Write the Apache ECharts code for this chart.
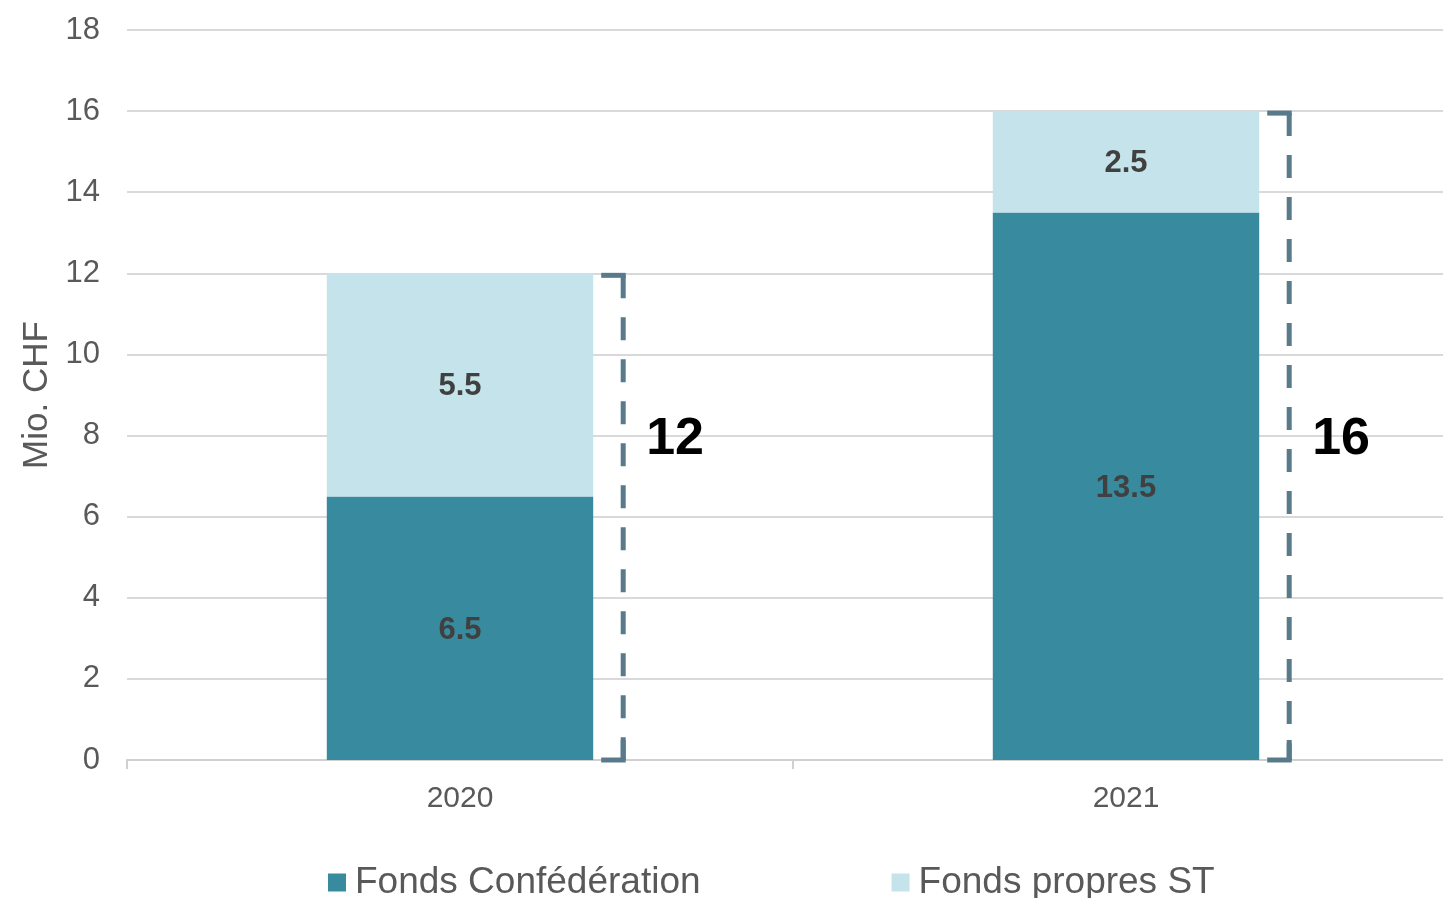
<!DOCTYPE html>
<html>
<head>
<meta charset="utf-8">
<script src="https://cdn.jsdelivr.net/npm/echarts@6/dist/echarts.min.js"></script>
<style>
html,body{margin:0;padding:0;background:#fff;}
#c{width:1443px;height:898px;}
</style>
</head>
<body>
<div id="c"></div>
<script>
const categories = ['2020', '2021'];
const fondsConfederation = [6.5, 13.5];
const fondsPropres = [5.5, 2.5];
const totals = [12, 16];
const seriesNames = ['Fonds Confédération', 'Fonds propres ST'];
const yTicks = { min: 0, max: 18, interval: 2 };

const chart = echarts.init(document.getElementById('c'));
const FONT = '"Liberation Sans", Arial, sans-serif';
const BRACKET = '#587A8B';

chart.setOption({
  animation: false,
  backgroundColor: '#ffffff',
  textStyle: { fontFamily: FONT },
  grid: { left: 127, width: 1332, top: 30, height: 730, outerBoundsMode: 'none', containLabel: false },
  legend: {
    data: seriesNames,
    left: 328, top: 864,
    padding: 0,
    itemWidth: 18, itemHeight: 18, itemGap: 191,
    icon: 'rect',
    textStyle: { fontSize: 37, color: '#595959', fontFamily: FONT, padding: [0, 0, 0, 4] }
  },
  xAxis: {
    type: 'category',
    data: categories,
    axisLine: { lineStyle: { color: '#d0d0d0', width: 2 } },
    axisTick: { show: true, length: 9, lineStyle: { color: '#d0d0d0', width: 2 } },
    axisLabel: { fontSize: 30, color: '#595959', margin: 24, fontFamily: FONT }
  },
  yAxis: {
    type: 'value',
    min: yTicks.min, max: yTicks.max, interval: yTicks.interval,
    name: 'Mio. CHF',
    nameLocation: 'middle',
    nameGap: 72,
    nameRotate: 90,
    nameTextStyle: { fontSize: 35, color: '#595959', fontFamily: FONT },
    axisLine: { show: false },
    axisTick: { show: false },
    axisLabel: { fontSize: 31, color: '#595959', margin: 27, fontFamily: FONT },
    splitLine: { lineStyle: { color: '#d9d9d9', width: 2 } }
  },
  series: [
    {
      name: seriesNames[0], type: 'bar', stack: 'total', barWidth: '40%',
      data: fondsConfederation,
      itemStyle: { color: '#388A9E' },
      label: { show: true, position: 'inside', offset: [0, 2], fontSize: 31, fontWeight: 'bold', color: '#404040', fontFamily: FONT }
    },
    {
      name: seriesNames[1], type: 'bar', stack: 'total', barWidth: '40%',
      data: fondsPropres,
      itemStyle: { color: '#C5E3EA' },
      label: { show: true, position: 'inside', offset: [0, 2], fontSize: 31, fontWeight: 'bold', color: '#404040', fontFamily: FONT }
    },
    {
      type: 'custom',
      z: 10,
      clip: false,
      data: totals.map((t, i) => [i, t]),
      encode: { x: 0, y: 1 },
      renderItem: function (params, api) {
        const idx = api.value(0);
        const total = api.value(1);
        const top = api.coord([idx, total]);
        const bot = api.coord([idx, 0]);
        const band = api.size([1, 0])[0];
        const x = top[0] + band * 0.2 + 30;
        const labelY = api.coord([idx, 7.9])[1];
        const st = { stroke: BRACKET, lineWidth: 5, fill: null };
        return {
          type: 'group',
          children: [
            { type: 'line', shape: { x1: x, y1: top[1] + 2, x2: x, y2: bot[1] },
              style: Object.assign({}, st, { lineDash: [23, 19] }) },
            { type: 'line', shape: { x1: x - 22, y1: top[1] + 2, x2: x + 2.5, y2: top[1] + 2 }, style: st },
            { type: 'line', shape: { x1: x - 22, y1: bot[1], x2: x + 2.5, y2: bot[1] }, style: st },
            { type: 'line', shape: { x1: x, y1: bot[1] - 20, x2: x, y2: bot[1] }, style: st },
            { type: 'text', x: x + 23, y: labelY,
              style: { text: String(total), fontSize: 52, fontWeight: 'bold', fill: '#000', fontFamily: FONT,
                       textVerticalAlign: 'middle', verticalAlign: 'middle', align: 'left' } }
          ]
        };
      }
    }
  ]
});
</script>
</body>
</html>
